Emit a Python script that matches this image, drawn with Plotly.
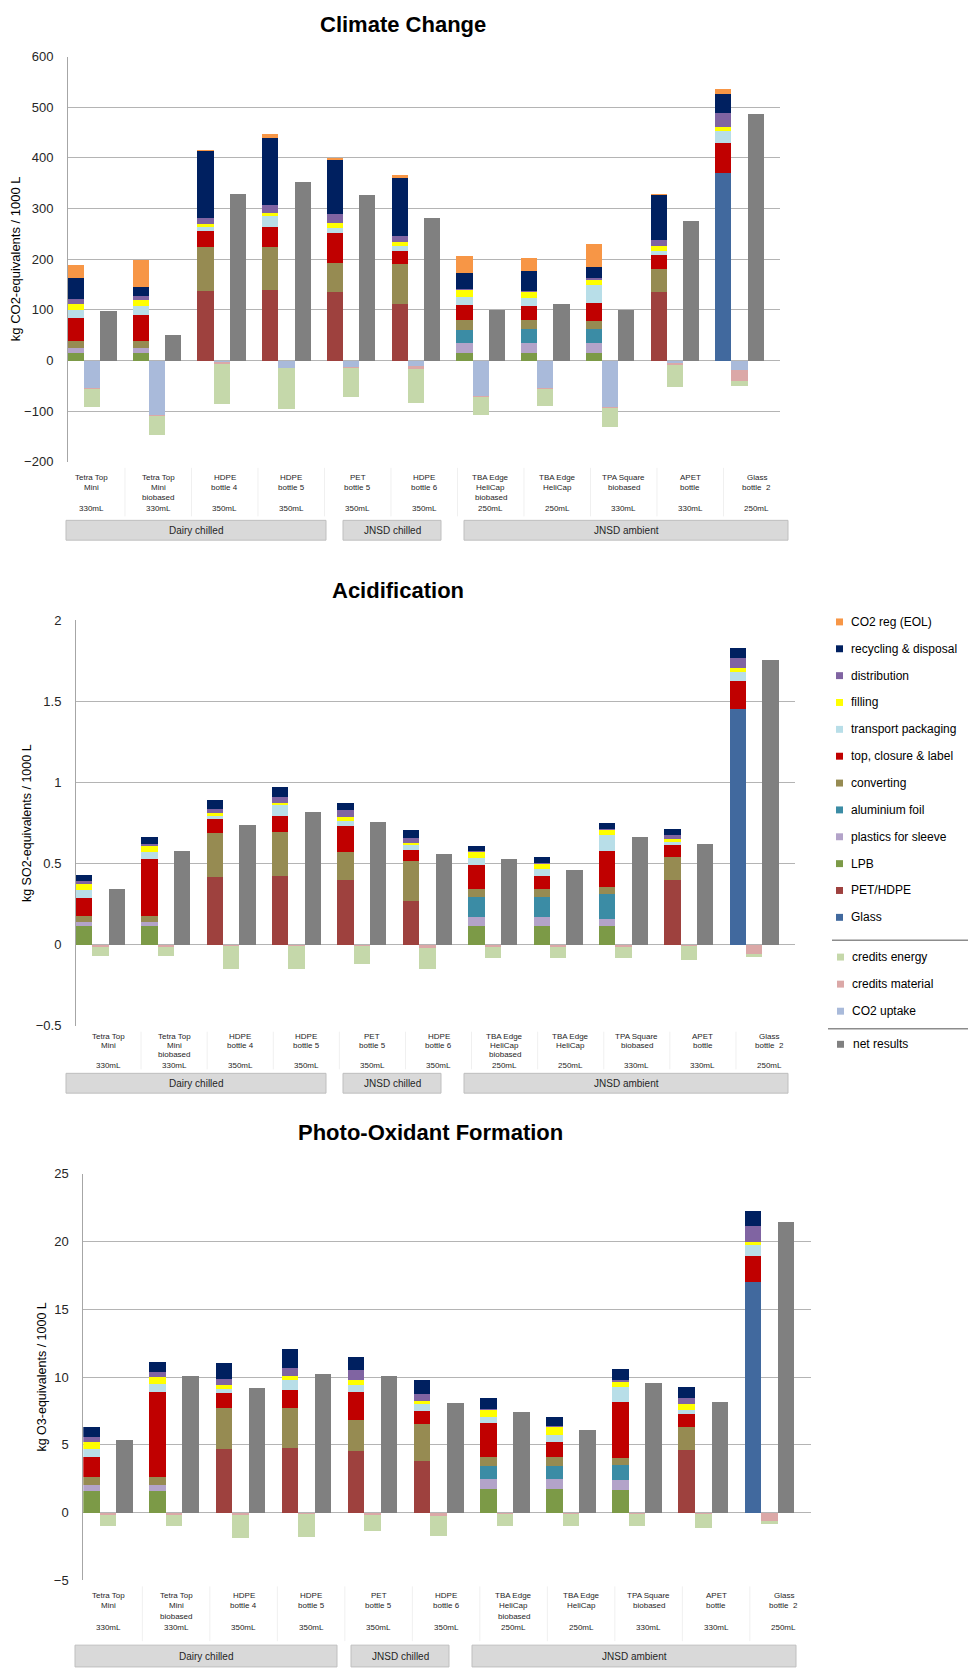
import plotly.graph_objects as go

W, H = 968, 1669

# ---------------- categories / labels ----------------
LABEL_LINE1 = ["Tetra Top", "Tetra Top", "HDPE", "HDPE", "PET", "HDPE", "TBA Edge", "TBA Edge", "TPA Square", "APET", "Glass"]
LABEL_LINE2 = ["Mini", "Mini", "bottle 4", "bottle 5", "bottle 5", "bottle 6", "HeliCap", "HeliCap", "biobased", "bottle", "bottle  2"]
LABEL_LINE3 = ["", "biobased", "", "", "", "", "biobased", "", "", "", ""]
VOLUMES = ["330mL", "330mL", "350mL", "350mL", "350mL", "350mL", "250mL", "250mL", "330mL", "330mL", "250mL"]
GROUPS = ["Dairy chilled", "JNSD chilled", "JNSD ambient"]

# ---------------- Climate Change (kg CO2-eq / 1000 L) ----------------
CC_GLASS = [0, 0, 0, 0, 0, 0, 0, 0, 0, 0, 371]
CC_PET_HDPE = [0, 0, 137.5, 139, 135, 111, 0, 0, 0, 135.4, 0]
CC_LPB = [14, 14, 0, 0, 0, 0, 14, 14, 14, 0, 0]
CC_SLEEVE = [10, 10, 0, 0, 0, 0, 21, 21, 20, 0, 0]
CC_ALU = [0, 0, 0, 0, 0, 0, 26, 27, 29, 0, 0]
CC_CONVERTING = [15, 15, 86.5, 86, 57, 80, 19, 19, 16, 44.6, 0]
CC_TOP = [45, 51, 31, 38, 59, 24.6, 29, 27, 35, 28, 59]
CC_TRANSPORT = [16, 18, 9, 22, 11, 11.4, 16, 16, 35, 8, 23]
CC_FILLING = [11, 11, 6, 6, 10, 7, 14, 11.4, 9, 11, 7]
CC_DISTRIBUTION = [9.5, 8, 12, 16.5, 17, 12, 2, 2.6, 4, 11, 28]
CC_RECYCLING = [43, 18, 131, 132.5, 106, 114.6, 31, 39, 23.5, 89, 39]
CC_CO2_REG = [24.5, 53, 2, 8, 5.6, 6.4, 34.5, 26, 45.5, 2, 9]
CC_CO2_UPTAKE = [-54, -108, -3, -14, -12, -11, -70, -54, -92.5, -5, -18]
CC_CREDITS_MAT = [-1.5, -1, -3, -1, -2.5, -5, -1.5, -1.5, -1.5, -3, -21.5]
CC_CREDITS_EN = [-36, -37, -79, -80, -57, -68, -36, -34, -38, -45, -11]
CC_NET = [97, 51, 329, 353, 327.5, 281, 99.7, 112, 99, 276, 486]

# ---------------- Acidification (kg SO2-eq / 1000 L) ----------------
AC_GLASS = [0, 0, 0, 0, 0, 0, 0, 0, 0, 0, 1.453]
AC_PET_HDPE = [0, 0, 0.418, 0.422, 0.397, 0.267, 0, 0, 0, 0.40, 0]
AC_LPB = [0.114, 0.114, 0, 0, 0, 0, 0.118, 0.118, 0.114, 0, 0]
AC_SLEEVE = [0.027, 0.027, 0, 0, 0, 0, 0.051, 0.051, 0.047, 0, 0]
AC_ALU = [0, 0, 0, 0, 0, 0, 0.127, 0.127, 0.151, 0, 0]
AC_CONVERTING = [0.036, 0.036, 0.271, 0.271, 0.176, 0.249, 0.046, 0.046, 0.041, 0.14, 0]
AC_TOP = [0.114, 0.349, 0.084, 0.102, 0.157, 0.065, 0.149, 0.08, 0.224, 0.074, 0.174]
AC_TRANSPORT = [0.045, 0.047, 0.022, 0.065, 0.032, 0.033, 0.041, 0.043, 0.102, 0.02, 0.057]
AC_FILLING = [0.037, 0.034, 0.016, 0.016, 0.023, 0.016, 0.039, 0.034, 0.026, 0.018, 0.02]
AC_DISTRIBUTION = [0.02, 0.015, 0.027, 0.033, 0.043, 0.03, 0.006, 0.007, 0.006, 0.025, 0.065]
AC_RECYCLING = [0.037, 0.042, 0.055, 0.061, 0.048, 0.049, 0.03, 0.036, 0.041, 0.038, 0.059]
AC_CO2_REG = [0, 0, 0, 0, 0, 0, 0, 0, 0, 0, 0]
AC_CO2_UPTAKE = [0, 0, 0, 0, 0, 0, 0, 0, 0, 0, 0]
AC_CREDITS_MAT = [-0.014, -0.014, -0.01, -0.005, -0.01, -0.018, -0.016, -0.016, -0.016, -0.01, -0.055]
AC_CREDITS_EN = [-0.056, -0.056, -0.137, -0.147, -0.11, -0.131, -0.068, -0.068, -0.068, -0.086, -0.02]
AC_NET = [0.342, 0.577, 0.738, 0.817, 0.756, 0.561, 0.526, 0.461, 0.664, 0.622, 1.755]

# ---------------- Photo-Oxidant Formation (kg O3-eq / 1000 L) ----------------
PO_GLASS = [0, 0, 0, 0, 0, 0, 0, 0, 0, 0, 17.0]
PO_PET_HDPE = [0, 0, 4.73, 4.80, 4.56, 3.83, 0, 0, 0, 4.61, 0]
PO_LPB = [1.61, 1.61, 0, 0, 0, 0, 1.71, 1.71, 1.66, 0, 0]
PO_SLEEVE = [0.41, 0.41, 0, 0, 0, 0, 0.8, 0.8, 0.73, 0, 0]
PO_ALU = [0, 0, 0, 0, 0, 0, 0.9, 0.9, 1.14, 0, 0]
PO_CONVERTING = [0.59, 0.59, 2.97, 2.95, 2.26, 2.72, 0.73, 0.73, 0.51, 1.70, 0]
PO_TOP = [1.53, 6.31, 1.10, 1.29, 2.10, 0.95, 2.44, 1.05, 4.10, 0.98, 1.9]
PO_TRANSPORT = [0.56, 0.56, 0.29, 0.78, 0.49, 0.54, 0.49, 0.54, 1.12, 0.31, 0.84]
PO_FILLING = [0.54, 0.51, 0.29, 0.27, 0.36, 0.2, 0.48, 0.56, 0.41, 0.39, 0.26]
PO_DISTRIBUTION = [0.36, 0.37, 0.49, 0.61, 0.73, 0.48, 0.13, 0.09, 0.15, 0.47, 1.15]
PO_RECYCLING = [0.71, 0.78, 1.19, 1.36, 1.0, 1.1, 0.75, 0.71, 0.78, 0.8, 1.1]
PO_CO2_REG = [0, 0, 0, 0, 0, 0, 0, 0, 0, 0, 0]
PO_CO2_UPTAKE = [0, 0, 0, 0, 0, 0, 0, 0, 0, 0, 0]
PO_CREDITS_MAT = [-0.15, -0.15, -0.15, -0.1, -0.15, -0.22, -0.12, -0.12, -0.12, -0.12, -0.61]
PO_CREDITS_EN = [-0.87, -0.87, -1.73, -1.7, -1.24, -1.53, -0.85, -0.85, -0.9, -1.03, -0.24]
PO_NET = [5.34, 10.11, 9.23, 10.23, 10.11, 8.07, 7.46, 6.09, 9.58, 8.14, 21.44]

# ---------------- series styling (stack order bottom -> top) ----------------
STACK_NAMES = ["Glass", "PET/HDPE", "LPB", "plastics for sleeve", "aluminium foil", "converting",
               "top, closure & label", "transport packaging", "filling", "distribution",
               "recycling & disposal", "CO2 reg (EOL)"]
STACK_COLORS = ["#41699E", "#9E413E", "#7C9A47", "#B3A3C9", "#3B8CA5", "#968B52",
                "#C00000", "#B8DEE8", "#FFFF00", "#8064A2", "#002060", "#F79646"]
CREDIT_NAMES = ["CO2 uptake", "credits material", "credits energy"]
CREDIT_COLORS = ["#A9BADA", "#DBA8A7", "#C5D8AA"]
NET_NAME = "net results"
NET_COLOR = "#808080"

charts = [
    dict(title="Climate Change", ytitle="kg CO2-equivalents / 1000 L",
         stack=[CC_GLASS, CC_PET_HDPE, CC_LPB, CC_SLEEVE, CC_ALU, CC_CONVERTING, CC_TOP,
                CC_TRANSPORT, CC_FILLING, CC_DISTRIBUTION, CC_RECYCLING, CC_CO2_REG],
         credits=[CC_CO2_UPTAKE, CC_CREDITS_MAT, CC_CREDITS_EN], net=CC_NET,
         xdom=(68, 780), ydom=(50, 459), rng=(-200, 600), dtick=100,
         title_xy=(403, 18), ytitle_x=15, ytfont=13,
         lab_x0=91.7, lab_dx=66.5, lab_y=(475, 485, 495, 506.5),
         boxes=[(66, 326), (343, 441), (464, 788)], box_y=(518, 538)),
    dict(title="Acidification", ytitle="kg SO2-equivalents / 1000 L",
         stack=[AC_GLASS, AC_PET_HDPE, AC_LPB, AC_SLEEVE, AC_ALU, AC_CONVERTING, AC_TOP,
                AC_TRANSPORT, AC_FILLING, AC_DISTRIBUTION, AC_RECYCLING, AC_CO2_REG],
         credits=[AC_CO2_UPTAKE, AC_CREDITS_MAT, AC_CREDITS_EN], net=AC_NET,
         xdom=(76, 795), ydom=(619, 1028), rng=(-0.5, 2), dtick=0.5,
         title_xy=(398, 589), ytitle_x=27, ytfont=12.5,
         lab_x0=108, lab_dx=66.1, lab_y=(1039, 1048, 1057.5, 1068),
         boxes=[(66, 326), (343, 441), (464, 788)], box_y=(1076, 1096)),
    dict(title="Photo-Oxidant Formation", ytitle="kg O3-equivalents / 1000 L",
         stack=[PO_GLASS, PO_PET_HDPE, PO_LPB, PO_SLEEVE, PO_ALU, PO_CONVERTING, PO_TOP,
                PO_TRANSPORT, PO_FILLING, PO_DISTRIBUTION, PO_RECYCLING, PO_CO2_REG],
         credits=[PO_CO2_UPTAKE, PO_CREDITS_MAT, PO_CREDITS_EN], net=PO_NET,
         xdom=(83.3, 810.7), ydom=(1177.3, 1587.7), rng=(-5, 25), dtick=5,
         title_xy=(430, 1136), ytitle_x=42.5, ytfont=12.5,
         lab_x0=108.6, lab_dx=67.5, lab_y=(1603, 1613.5, 1624, 1635),
         boxes=[(75, 337), (351, 449), (472, 796)], box_y=(1653, 1675)),
]

FONT = "Liberation Sans, Arial, sans-serif"
N = len(VOLUMES)


def fx(p):
    return p / W


def fy(p):
    return 1 - p / H


fig = go.Figure()
annotations = []
shapes = []
layout_axes = {}

for k, ch in enumerate(charts):
    sfx = "" if k == 0 else str(k + 1)
    xa, ya = "x" + sfx, "y" + sfx
    pos_stack = [4 * i for i in range(N)]
    pos_credit = [4 * i + 1 for i in range(N)]
    pos_net = [4 * i + 2 for i in range(N)]
    for name, color, vals in zip(STACK_NAMES, STACK_COLORS, ch["stack"]):
        fig.add_trace(go.Bar(x=pos_stack, y=vals, width=1, name=name, marker=dict(color=color, line=dict(width=0)),
                             xaxis=xa, yaxis=ya, showlegend=False))
    for name, color, vals in zip(CREDIT_NAMES, CREDIT_COLORS, ch["credits"]):
        fig.add_trace(go.Bar(x=pos_credit, y=vals, width=1, name=name, marker=dict(color=color, line=dict(width=0)),
                             xaxis=xa, yaxis=ya, showlegend=False))
    fig.add_trace(go.Bar(x=pos_net, y=ch["net"], width=1, name=NET_NAME, marker=dict(color=NET_COLOR, line=dict(width=0)),
                         xaxis=xa, yaxis=ya, showlegend=False))

    x0, x1 = ch["xdom"]
    yt, yb = ch["ydom"]
    layout_axes["xaxis" + sfx] = dict(domain=[fx(x0), fx(x1)], range=[-0.5, 4 * N - 0.5], showticklabels=False,
                                      showgrid=False, zeroline=False, showline=False, anchor=ya, fixedrange=True)
    layout_axes["yaxis" + sfx] = dict(domain=[fy(yb), fy(yt)], range=list(ch["rng"]), dtick=ch["dtick"], tick0=0,
                                      showgrid=True, gridcolor="#B4B4B4", gridwidth=1, zeroline=False,
                                      showline=True, linecolor="#A6A6A6", linewidth=1, anchor=xa,
                                      ticks="outside", ticklen=11, tickcolor="rgba(0,0,0,0)",
                                      tickfont=dict(family=FONT, size=13, color="#262626"), fixedrange=True)
    # chart title
    tx, ty = ch["title_xy"]
    annotations.append(dict(text="<b>%s</b>" % ch["title"], x=fx(tx), y=fy(ty), xref="paper", yref="paper",
                            showarrow=False, xanchor="center", yanchor="middle",
                            font=dict(family=FONT, size=22, color="#000000")))
    # y-axis title
    annotations.append(dict(text=ch["ytitle"], x=fx(ch["ytitle_x"]), y=fy((yt + yb) / 2), xref="paper", yref="paper",
                            showarrow=False, textangle=-90, xanchor="center", yanchor="middle",
                            font=dict(family=FONT, size=ch["ytfont"], color="#000000")))
    # category label table
    for i in range(N):
        cx = ch["lab_x0"] + ch["lab_dx"] * i
        for line, ly in zip((LABEL_LINE1[i], LABEL_LINE2[i], LABEL_LINE3[i], VOLUMES[i]), ch["lab_y"]):
            if line:
                annotations.append(dict(text=line, x=fx(cx), y=fy(ly), xref="paper", yref="paper",
                                        showarrow=False, xanchor="center", yanchor="middle",
                                        font=dict(family=FONT, size=8, color="#262626")))
        if i > 0:
            sx = cx - ch["lab_dx"] / 2
            shapes.append(dict(type="line", xref="paper", yref="paper", x0=fx(sx), x1=fx(sx),
                               y0=fy(yb + 6), y1=fy(ch["box_y"][0] - 4), line=dict(color="#F0F0F0", width=1)))
    # group boxes
    by0, by1 = ch["box_y"]
    for g, (bx0, bx1) in zip(GROUPS, ch["boxes"]):
        shapes.append(dict(type="rect", xref="paper", yref="paper", x0=fx(bx0), x1=fx(bx1), y0=fy(by1), y1=fy(by0),
                           fillcolor="#D9D9D9", line=dict(color="#BFBFBF", width=1)))
        annotations.append(dict(text=g, x=fx((bx0 + bx1) / 2), y=fy((by0 + by1) / 2 if by1 < 1669 else by0 + 11),
                                xref="paper", yref="paper", showarrow=False, xanchor="center", yanchor="middle",
                                font=dict(family=FONT, size=10, color="#262626")))

# ---------------- manual legend (next to Acidification chart) ----------------
LEG_FONT = dict(family=FONT, size=12, color="#000000")
legend_items = list(zip(STACK_NAMES[::-1], STACK_COLORS[::-1]))
for j, (name, color) in enumerate(legend_items):
    cy = 620.5 + 27.1 * j
    shapes.append(dict(type="rect", xref="paper", yref="paper", x0=fx(836), x1=fx(843), y0=fy(cy + 3.5), y1=fy(cy - 3.5),
                       fillcolor=color, line=dict(width=0)))
    annotations.append(dict(text=name, x=fx(849), y=fy(cy), xref="paper", yref="paper", showarrow=False,
                            xanchor="left", yanchor="middle", font=LEG_FONT))
for j, (name, color) in enumerate(zip(CREDIT_NAMES[::-1], CREDIT_COLORS[::-1])):
    cy = 958.7 + 27.3 * j
    shapes.append(dict(type="rect", xref="paper", yref="paper", x0=fx(837), x1=fx(844), y0=fy(cy + 3.5), y1=fy(cy - 3.5),
                       fillcolor=color, line=dict(width=0)))
    annotations.append(dict(text=name, x=fx(850), y=fy(cy), xref="paper", yref="paper", showarrow=False,
                            xanchor="left", yanchor="middle", font=LEG_FONT))
cy = 1046.7
shapes.append(dict(type="rect", xref="paper", yref="paper", x0=fx(837), x1=fx(844), y0=fy(cy + 3.5), y1=fy(cy - 3.5),
                   fillcolor=NET_COLOR, line=dict(width=0)))
annotations.append(dict(text=NET_NAME, x=fx(851), y=fy(cy), xref="paper", yref="paper", showarrow=False,
                        xanchor="left", yanchor="middle", font=LEG_FONT))
for ly, lx in ((941.7, 832), (1031, 828)):
    shapes.append(dict(type="line", xref="paper", yref="paper", x0=fx(lx), x1=1, y0=fy(ly), y1=fy(ly),
                       line=dict(color="#8C8C8C", width=1.5)))

fig.update_layout(
    width=W, height=H, autosize=False,
    margin=dict(l=0, r=0, t=0, b=0),
    paper_bgcolor="#FFFFFF", plot_bgcolor="#FFFFFF",
    barmode="relative", bargap=0,
    showlegend=False,
    annotations=annotations, shapes=shapes,
    font=dict(family=FONT),
    **layout_axes,
)

fig.write_html("out.html", config={"displayModeBar": False, "staticPlot": True},
               post_script="document.body.style.margin='0px';document.body.style.overflow='hidden';")
